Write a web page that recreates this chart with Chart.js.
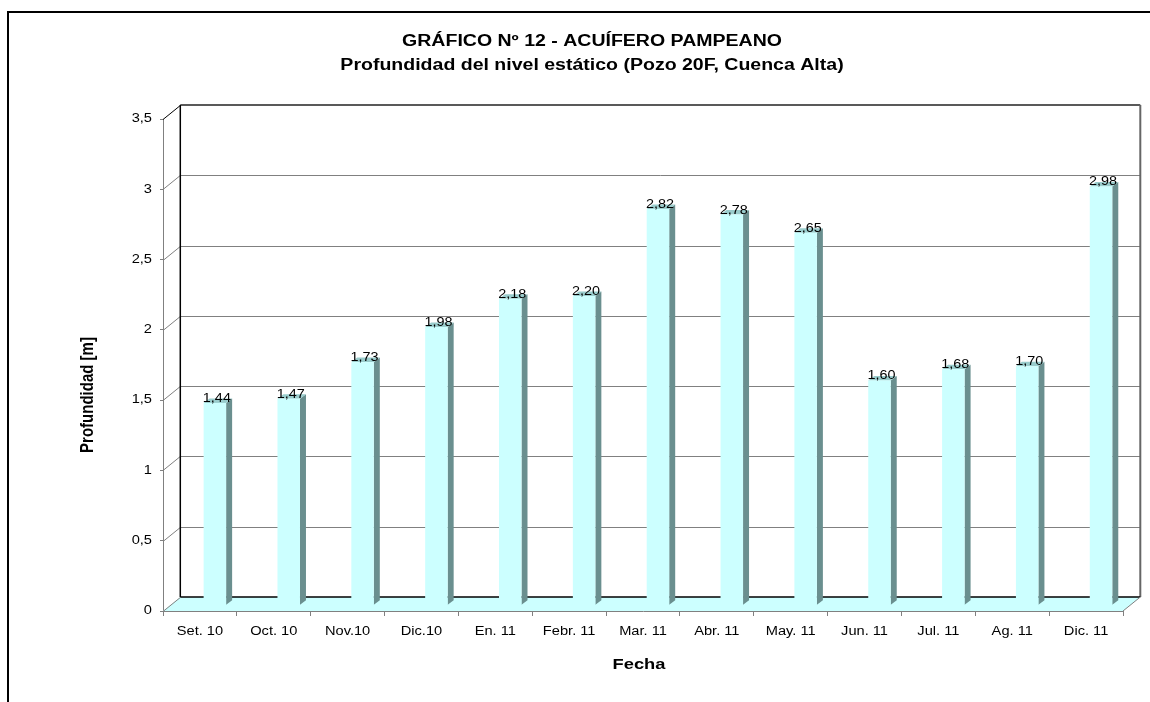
<!DOCTYPE html>
<html>
<head>
<meta charset="utf-8">
<script src="https://cdn.jsdelivr.net/npm/chart.js@4.4.1/dist/chart.umd.min.js"></script>
<style>
  html, body { margin: 0; padding: 0; background: #fff; }
  canvas { display: block; }
</style>
</head>
<body>
<canvas id="chart" width="1150" height="702"></canvas>
<script>
/* ---------- data ---------- */
const categories = ["Set. 10", "Oct. 10", "Nov.10", "Dic.10", "En. 11", "Febr. 11",
                    "Mar. 11", "Abr. 11", "May. 11", "Jun. 11", "Jul. 11", "Ag. 11", "Dic. 11"];
const depths = [1.44, 1.47, 1.73, 1.98, 2.18, 2.20, 2.82, 2.78, 2.65, 1.60, 1.68, 1.70, 2.98];
const yMin = 0;
const yMax = 3.5;
const yStep = 0.5;

const chartTitle = "GRÁFICO Nº 12 - ACUÍFERO PAMPEANO";
const chartSubtitle = "Profundidad del nivel estático (Pozo 20F, Cuenca Alta)";
const yTitle = "Profundidad [m]";
const xTitle = "Fecha";

/* ---------- look ---------- */
const FONT = "'Liberation Sans', Arial, sans-serif";
const STRETCH = 1.22;                       // the original text is drawn wide
const WALL_DX = 17.3, WALL_DY = -14;        // depth of the back wall
const BAR_DX = 3.7, BAR_W = 22.5, BAR_LIFT = 5.7;
const SIDE_DX = 6, SIDE_DY = -4.5;          // depth of each column
const CYAN = "#ccffff", SIDE = "#6a8f8f", TOP = "#99cccc", GRID = "#808080";

const comma = v => String(v).replace(".", ",");

function line(ctx, x1, y1, x2, y2, color, w) {
  ctx.strokeStyle = color;
  ctx.lineWidth = w || 1;
  ctx.beginPath();
  ctx.moveTo(x1, y1);
  ctx.lineTo(x2, y2);
  ctx.stroke();
}

function wideText(ctx, text, x, y, font, align, baseline, stretch) {
  ctx.save();
  ctx.font = font;
  ctx.fillStyle = "#000";
  ctx.textAlign = align;
  ctx.textBaseline = baseline;
  ctx.translate(x, y);
  ctx.scale(stretch || STRETCH, 1);
  ctx.fillText(text, 0, 0);
  ctx.restore();
}

/* ---------- 3D look + texts ---------- */
const scene3d = {
  id: "scene3d",
  beforeDraw(chart) {
    const ctx = chart.ctx;
    ctx.save();
    ctx.fillStyle = "#fff";
    ctx.fillRect(0, 0, chart.width, chart.height);

    // outer frame (only top and left are in view)
    ctx.strokeStyle = "#000";
    ctx.lineWidth = 2;
    ctx.beginPath();
    ctx.moveTo(8, chart.height);
    ctx.lineTo(8, 12);
    ctx.lineTo(chart.width + 2, 12);
    ctx.stroke();
    ctx.restore();

    wideText(ctx, chartTitle, 592, 46, "bold 16px " + FONT, "center", "alphabetic");
    wideText(ctx, chartSubtitle, 592, 70, "bold 16px " + FONT, "center", "alphabetic");
    wideText(ctx, xTitle, 639, 665, "bold 15px " + FONT, "center", "middle");

    ctx.save();
    ctx.translate(88, 395);
    ctx.scale(STRETCH, 1);
    ctx.rotate(-Math.PI / 2);
    ctx.font = "bold 15px " + FONT;
    ctx.fillStyle = "#000";
    ctx.textAlign = "center";
    ctx.textBaseline = "middle";
    ctx.fillText(yTitle, 0, 0);
    ctx.restore();
  },

  beforeDatasetsDraw(chart) {
    const { ctx, scales: { x, y } } = chart;
    const left = x.left, right = x.right;
    const bottom = y.getPixelForValue(yMin), top = y.getPixelForValue(yMax);
    const bl = left + WALL_DX, br = right + WALL_DX;
    ctx.save();

    // floor
    ctx.fillStyle = CYAN;
    ctx.beginPath();
    ctx.moveTo(left, bottom);
    ctx.lineTo(right, bottom);
    ctx.lineTo(br, bottom + WALL_DY);
    ctx.lineTo(bl, bottom + WALL_DY);
    ctx.closePath();
    ctx.fill();

    // back wall grid + side wall diagonals
    y.ticks.forEach(t => {
      const py = Math.round(y.getPixelForValue(t.value)) + 0.5;
      if (t.value > yMin && t.value < yMax) {
        line(ctx, bl, py + WALL_DY, br, py + WALL_DY, GRID);
      }
      line(ctx, left, py, bl, py + WALL_DY, t.value === yMax ? "#000" : GRID);
    });

    // wall borders
    line(ctx, bl, top + WALL_DY, br, top + WALL_DY, "#222", 1.5);
    line(ctx, bl, top + WALL_DY, bl, bottom + WALL_DY, "#000", 1.5);
    line(ctx, br, top + WALL_DY, br, bottom + WALL_DY, "#666", 2);
    line(ctx, bl, bottom + WALL_DY, br, bottom + WALL_DY, "#000", 1.5);
    line(ctx, right, bottom, br, bottom + WALL_DY, GRID);
    ctx.restore();
  },

  afterDatasetsDraw(chart) {
    const { ctx, scales: { x, y } } = chart;
    const meta = chart.getDatasetMeta(0);
    ctx.save();
    meta.data.forEach((bar, i) => {
      const fl = bar.x + BAR_DX, fr = fl + BAR_W;
      const ft = bar.y - BAR_LIFT, fb = bar.base - BAR_LIFT;

      ctx.fillStyle = SIDE;
      ctx.beginPath();
      ctx.moveTo(fr, fb);
      ctx.lineTo(fr, ft);
      ctx.lineTo(fr + SIDE_DX, ft + SIDE_DY);
      ctx.lineTo(fr + SIDE_DX, fb + SIDE_DY);
      ctx.closePath();
      ctx.fill();

      ctx.fillStyle = TOP;
      ctx.beginPath();
      ctx.moveTo(fl, ft);
      ctx.lineTo(fr, ft);
      ctx.lineTo(fr + SIDE_DX, ft + SIDE_DY);
      ctx.lineTo(fl + SIDE_DX, ft + SIDE_DY);
      ctx.closePath();
      ctx.fill();

      ctx.fillStyle = CYAN;
      ctx.fillRect(fl, ft, BAR_W, fb - ft);

      wideText(ctx, depths[i].toFixed(2).replace(".", ","), fl + BAR_W / 2 + 2, ft - 1,
               "12px " + FONT, "center", "alphabetic", 1.2);
    });
    ctx.restore();

    // tick labels, placed by the scales
    x.ticks.forEach((t, i) => {
      wideText(ctx, categories[i], x.getPixelForTick(i), 632, "12px " + FONT, "center", "middle");
    });
    y.ticks.forEach((t, i) => {
      wideText(ctx, comma(t.value), 152, y.getPixelForTick(i), "12px " + FONT, "right", "middle");
    });
  }
};

/* ---------- chart ---------- */
new Chart(document.getElementById("chart"), {
  type: "bar",
  data: {
    labels: categories,
    datasets: [{
      data: depths,
      backgroundColor: "rgba(0,0,0,0)",
      borderWidth: 0
    }]
  },
  options: {
    responsive: false,
    animation: false,
    devicePixelRatio: 1,
    layout: { padding: { top: 119, right: 27, bottom: 0, left: 0 } },
    plugins: {
      legend: { display: false },
      title: { display: false },
      tooltip: { enabled: false }
    },
    scales: {
      x: {
        grid: { drawOnChartArea: false, offset: true, tickLength: 5, color: GRID },
        border: { color: GRID, z: 1 },
        ticks: { display: false, autoSkip: false },
        afterFit: s => { s.height = 91; }
      },
      y: {
        min: yMin,
        max: yMax,
        grid: { drawOnChartArea: false, tickLength: 3, color: GRID },
        border: { color: GRID },
        ticks: { display: false, stepSize: yStep },
        afterFit: s => { s.width = 163; }
      }
    }
  },
  plugins: [scene3d]
});
</script>
</body>
</html>
